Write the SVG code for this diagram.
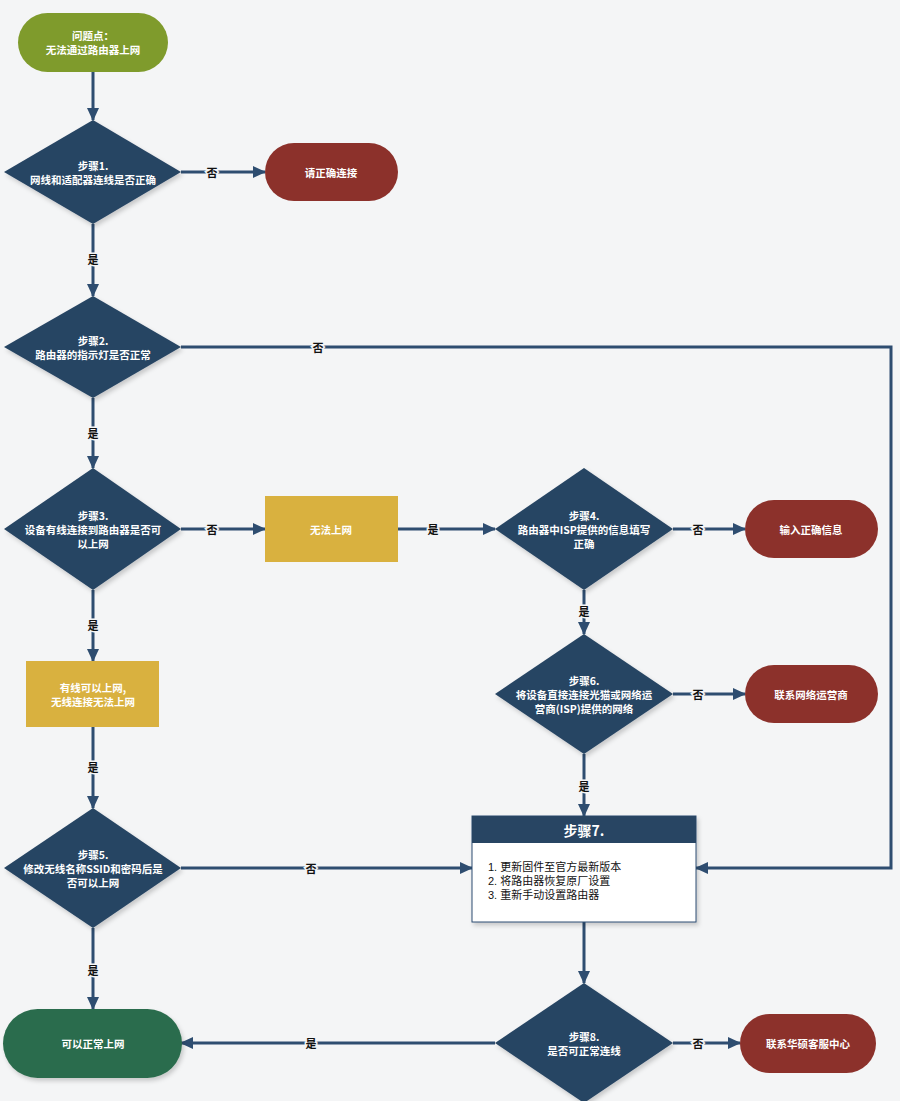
<svg xmlns="http://www.w3.org/2000/svg" width="900" height="1101" viewBox="0 0 900 1101">
<defs>
<style>
.bg{fill:#f4f5f6}
.dia{fill:#284563}
.start{fill:#7f9b2c}
.red{fill:#8c312b}
.yel{fill:#d9b13f}
.grn{fill:#2c6c4d}
.t{font-family:"Noto Sans CJK SC","Liberation Sans",sans-serif;font-size:10.5px;fill:#ffffff;text-anchor:middle;dominant-baseline:central;font-weight:bold}
.lst{font-family:"Liberation Sans","Noto Sans CJK SC",sans-serif;font-size:11px;fill:#111111;dominant-baseline:central}
.hdr{font-family:"Noto Sans CJK SC","Liberation Sans",sans-serif;font-size:14px;fill:#ffffff;text-anchor:middle;dominant-baseline:central;font-weight:bold}
.ln{fill:none;stroke:#2e4d70;stroke-width:3}
.lbl{font-family:"Noto Sans CJK SC",sans-serif;font-size:11px;fill:#111111;text-anchor:middle;dominant-baseline:central;font-weight:bold;paint-order:stroke;stroke:#f4f5f6;stroke-width:3px}
</style>
<marker id="ah" markerUnits="userSpaceOnUse" markerWidth="14" markerHeight="14" viewBox="0 0 14 14" refX="12" refY="7" orient="auto">
<path d="M0,1 L13,7 L0,13 Z" fill="#2e4d70"/>
</marker>
<filter id="sh" x="-10%" y="-10%" width="130%" height="130%">
<feDropShadow dx="2" dy="3" stdDeviation="2" flood-color="#000000" flood-opacity="0.18"/>
</filter>
</defs>
<rect class="bg" x="0" y="0" width="900" height="1101"/>

<g id="connectors">
<path class="ln" d="M93,72 V120" marker-end="url(#ah)"/>
<path class="ln" d="M181,172 H265" marker-end="url(#ah)"/>
<text class="lbl" x="212" y="172">否</text>
<path class="ln" d="M93,224 V296" marker-end="url(#ah)"/>
<text class="lbl" x="93" y="259">是</text>
<path class="ln" d="M181,347 H891 V868 H696" marker-end="url(#ah)"/>
<text class="lbl" x="318" y="347">否</text>
<path class="ln" d="M93,398 V468" marker-end="url(#ah)"/>
<text class="lbl" x="93" y="433">是</text>
<path class="ln" d="M181,529 H265" marker-end="url(#ah)"/>
<text class="lbl" x="212" y="529">否</text>
<path class="ln" d="M398,529 H495" marker-end="url(#ah)"/>
<text class="lbl" x="433" y="529">是</text>
<path class="ln" d="M673,529 H745" marker-end="url(#ah)"/>
<text class="lbl" x="698" y="529">否</text>
<path class="ln" d="M584,590 V634" marker-end="url(#ah)"/>
<text class="lbl" x="584" y="611">是</text>
<path class="ln" d="M673,694 H745" marker-end="url(#ah)"/>
<text class="lbl" x="698" y="694">否</text>
<path class="ln" d="M584,754 V816" marker-end="url(#ah)"/>
<text class="lbl" x="584" y="786">是</text>
<path class="ln" d="M93,590 V661" marker-end="url(#ah)"/>
<text class="lbl" x="93" y="625">是</text>
<path class="ln" d="M93,727 V808" marker-end="url(#ah)"/>
<text class="lbl" x="93" y="767">是</text>
<path class="ln" d="M181,868 H472" marker-end="url(#ah)"/>
<text class="lbl" x="311" y="868">否</text>
<path class="ln" d="M93,928 V1009" marker-end="url(#ah)"/>
<text class="lbl" x="93" y="970">是</text>
<path class="ln" d="M584,922 V983" marker-end="url(#ah)"/>
<path class="ln" d="M495,1043 H181" marker-end="url(#ah)"/>
<text class="lbl" x="311" y="1043">是</text>
<path class="ln" d="M673,1043 H740" marker-end="url(#ah)"/>
<text class="lbl" x="698" y="1043">否</text>
</g>

<g id="start">
<rect class="start" x="18" y="13" width="150" height="59" rx="29.5"/>
<text class="t" x="93" y="35">问题点：</text>
<text class="t" x="93" y="49">无法通过路由器上网</text>
</g>

<g id="step1">
<path class="dia" filter="url(#sh)" d="M93,120 L181,172 L93,224 L4,172 Z"/>
<text class="t" x="93" y="165">步骤1.</text>
<text class="t" x="93" y="179">网线和适配器连线是否正确</text>
</g>

<g id="connect">
<rect class="red" x="265" y="143" width="133" height="58" rx="29"/>
<text class="t" x="331" y="172">请正确连接</text>
</g>

<g id="step2">
<path class="dia" filter="url(#sh)" d="M93,296 L181,347 L93,398 L4,347 Z"/>
<text class="t" x="93" y="340">步骤2.</text>
<text class="t" x="93" y="354">路由器的指示灯是否正常</text>
</g>

<g id="step3">
<path class="dia" filter="url(#sh)" d="M93,468 L181,529 L93,590 L4,529 Z"/>
<text class="t" x="93" y="515">步骤3.</text>
<text class="t" x="93" y="529">设备有线连接到路由器是否可</text>
<text class="t" x="93" y="543">以上网</text>
</g>

<g id="noInternet">
<rect class="yel" x="265" y="496" width="133" height="66"/>
<text class="t" x="331" y="529">无法上网</text>
</g>

<g id="step4">
<path class="dia" filter="url(#sh)" d="M584,468 L673,529 L584,590 L495,529 Z"/>
<text class="t" x="584" y="515">步骤4.</text>
<text class="t" x="584" y="529">路由器中ISP提供的信息填写</text>
<text class="t" x="584" y="543">正确</text>
</g>

<g id="inputInfo">
<rect class="red" x="745" y="500" width="133" height="58" rx="29"/>
<text class="t" x="811" y="529">输入正确信息</text>
</g>

<g id="step6">
<path class="dia" filter="url(#sh)" d="M584,634 L673,694 L584,754 L495,694 Z"/>
<text class="t" x="584" y="680">步骤6.</text>
<text class="t" x="584" y="694">将设备直接连接光猫或网络运</text>
<text class="t" x="584" y="708">营商(ISP)提供的网络</text>
</g>

<g id="contactISP">
<rect class="red" x="745" y="665" width="133" height="58" rx="29"/>
<text class="t" x="811" y="694">联系网络运营商</text>
</g>

<g id="wiredOk">
<rect class="yel" x="26" y="661" width="133" height="66"/>
<text class="t" x="93" y="687">有线可以上网,</text>
<text class="t" x="93" y="701">无线连接无法上网</text>
</g>

<g id="step5">
<path class="dia" filter="url(#sh)" d="M93,808 L181,868 L93,928 L4,868 Z"/>
<text class="t" x="93" y="854">步骤5.</text>
<text class="t" x="93" y="868">修改无线名称SSID和密码后是</text>
<text class="t" x="93" y="882">否可以上网</text>
</g>

<g id="step7">
<rect x="472" y="816" width="224" height="106" fill="#ffffff" stroke="#2e4d70" stroke-width="1" filter="url(#sh)"/>
<rect class="dia" x="472" y="816" width="224" height="27"/>
<text class="hdr" x="584" y="830">步骤7.</text>
<text class="lst" x="488" y="867">1. 更新固件至官方最新版本</text>
<text class="lst" x="488" y="881">2. 将路由器恢复原厂设置</text>
<text class="lst" x="488" y="895">3. 重新手动设置路由器</text>
</g>

<g id="success">
<rect class="grn" filter="url(#sh)" x="3" y="1009" width="179" height="69" rx="34.5"/>
<text class="t" x="93" y="1043">可以正常上网</text>
</g>

<g id="step8">
<path class="dia" filter="url(#sh)" d="M584,983 L673,1043 L584,1103 L495,1043 Z"/>
<text class="t" x="584" y="1036">步骤8.</text>
<text class="t" x="584" y="1050">是否可正常连线</text>
</g>

<g id="contactAsus">
<rect class="red" x="740" y="1014" width="136" height="59" rx="29.5"/>
<text class="t" x="808" y="1043">联系华硕客服中心</text>
</g>
</svg>
